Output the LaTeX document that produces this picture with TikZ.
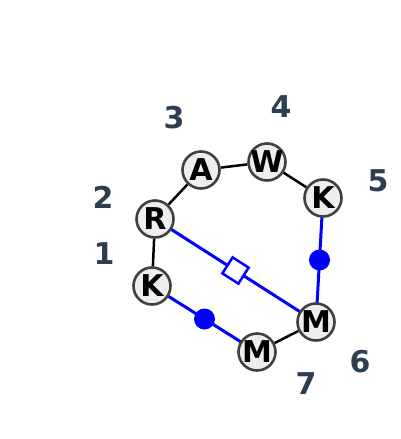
\documentclass[tikz,border=0pt]{standalone}
\usepackage{fontspec}
\setmainfont{DejaVu Sans}
\usetikzlibrary{backgrounds}
\definecolor{lbl}{HTML}{2C3E50}
\definecolor{nodefill}{HTML}{EEEEEE}
\definecolor{nodeline}{HTML}{404040}
\newcommand{\atomtxt}[1]{\makebox[0pt]{#1}}
\begin{document}
\begin{tikzpicture}[x=1pt,y=-1pt,
  atom/.style={circle,draw=nodeline,fill=nodefill,line width=2.6pt,minimum size=37pt,inner sep=0pt,font=\fontsize{30}{30}\selectfont\bfseries,text=black},
  numlbl/.style={font=\fontsize{30}{30}\selectfont\bfseries,text=lbl,inner sep=0pt},
  bond/.style={line width=2.5pt,black},
  bluebond/.style={line width=3pt,blue},
  bluedot/.style={circle,fill=blue,minimum size=21pt,inner sep=0pt},
  bluesq/.style={draw=blue,fill=white,line width=2.5pt,minimum size=19pt,inner sep=0pt}]
\useasboundingbox (0,0) rectangle (400,439);
\node[atom] (A) at (201,170) {\atomtxt{A}};
\node[atom] (W) at (267,162) {\atomtxt{W}};
\node[atom] (K5) at (323,198) {\atomtxt{K}};
\node[atom] (R) at (155,219) {\atomtxt{R}};
\node[atom] (K1) at (152,286) {\atomtxt{K}};
\node[atom] (M6) at (316,322) {\atomtxt{M}};
\node[atom] (M7) at (257,352) {\atomtxt{M}};
\node[numlbl] (n3) at (174,118) {3};
\node[numlbl] (n4) at (281,107) {4};
\node[numlbl] (n5) at (378,181) {5};
\node[numlbl] (n2) at (103,197) {2};
\node[numlbl] (n1) at (104,254) {1};
\node[numlbl] (n6) at (360,362) {6};
\node[numlbl] (n7) at (306,384) {7};
\begin{scope}[on background layer]
\draw[bond] (R) -- (A);
\draw[bond] (A) -- (W);
\draw[bond] (W) -- (K5);
\draw[bond] (R) -- (K1);
\draw[bond] (M7) -- (M6);
\draw[bluebond] (K1.center) -- node[bluedot,pos=0.5] (d1) {} (M7.center);
\draw[bluebond] (K5.center) -- node[bluedot,pos=0.5] (d2) {} (M6.center);
\draw[bluebond] (R.center) -- node[bluesq,pos=0.5,sloped] (sq) {} (M6.center);
\end{scope}
\end{tikzpicture}
\end{document}
